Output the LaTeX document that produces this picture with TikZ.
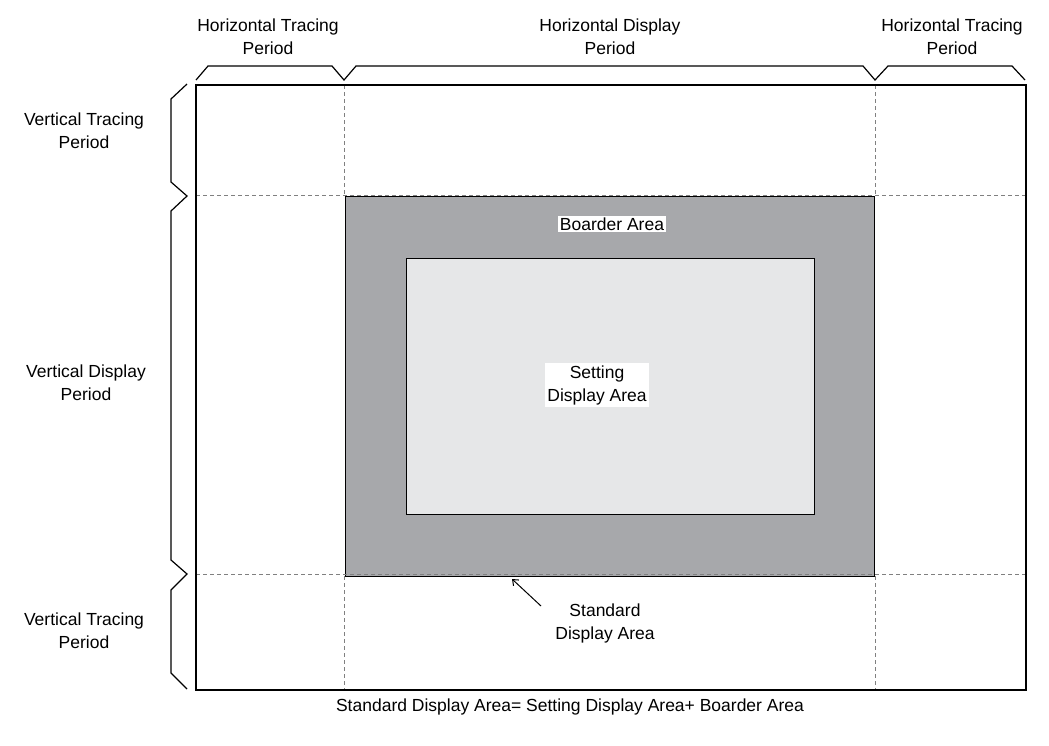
\documentclass[tikz,border=0pt]{standalone}
\usepackage{fontspec}
\setmainfont{Liberation Sans}
\usetikzlibrary{arrows.meta}
\definecolor{boardergray}{HTML}{A7A8AB}
\definecolor{settinggray}{HTML}{E6E7E8}
\tikzset{
  lbl/.style={align=center, inner sep=1pt, font=\fontsize{17.5}{23}\selectfont},
  whitelbl/.style={lbl, fill=white, inner sep=2pt},
  guide/.style={dashed, gray, line width=0.6, dash pattern=on 4pt off 3pt},
  bracket/.style={line width=1.2, line join=miter}
}
\begin{document}
\begin{tikzpicture}[x=1pt,y=-1pt]
				\useasboundingbox (0,0) rectangle (1049,745);
				\coordinate (TL) at (196,85);
				\coordinate (BR) at (1026,690);
				\coordinate (SA) at (345,196);
				\coordinate (SB) at (874,576);
				\coordinate (DA) at (406,258);
				\coordinate (DB) at (814,514);
				% areas
				\draw [fill=boardergray, line width=1] (SA) rectangle (SB);
				\draw [fill=settinggray, line width=0.8] (DA) rectangle (DB);
				% tracing / display limits
				\draw [guide] (196,195) -- (1026,195);
				\draw [guide] (196,574) -- (1026,574);
				\draw [guide] (344,85) -- (344,196);
				\draw [guide] (344,576) -- (344,690);
				\draw [guide] (875,85) -- (875,196);
				\draw [guide] (875,576) -- (875,690);
				\draw [line width=1.1] (TL) rectangle (BR);
				% brackets
				\draw [bracket] (196,80) -- (208,66) -- (332,66) -- (344,80) -- (356,66) -- (863,66) -- (875,80) -- (888,66) -- (1012,66) -- (1025,80);
				\draw [bracket] (187,84) -- (171,99) -- (171,182) -- (187,196) -- (171,211) -- (171,560) -- (187,574) -- (171,590) -- (171,673) -- (187,689);
				% labels
				\node [lbl] (htl) at (268,37) {Horizontal Tracing\\Period};
				\node [lbl] (hdp) at (610,37) {Horizontal Display\\Period};
				\node [lbl] (htr) at (952,37) {Horizontal Tracing\\Period};
				\node [lbl] (vtt) at (84,131) {Vertical Tracing\\Period};
				\node [lbl] (vdp) at (86,383) {Vertical Display\\Period};
				\node [lbl] (vtb) at (84,631) {Vertical Tracing\\Period};
				\node [whitelbl] (ba) at (612,224) {Boarder Area};
				\node [whitelbl] (sda) at (597,385) {Setting\\Display Area};
				\node [lbl] (std) at (605,623) {Standard\\Display Area};
				\node [lbl] (eq) at (570,707) {Standard Display Area= Setting Display Area+ Boarder Area};
				\coordinate (tail) at (541,606);
				\coordinate (tip) at (512,579);
				\draw [-{Straight Barb[length=5pt,width=8pt]}, line width=1] (tail) -- (tip);
			\end{tikzpicture}
\end{document}
